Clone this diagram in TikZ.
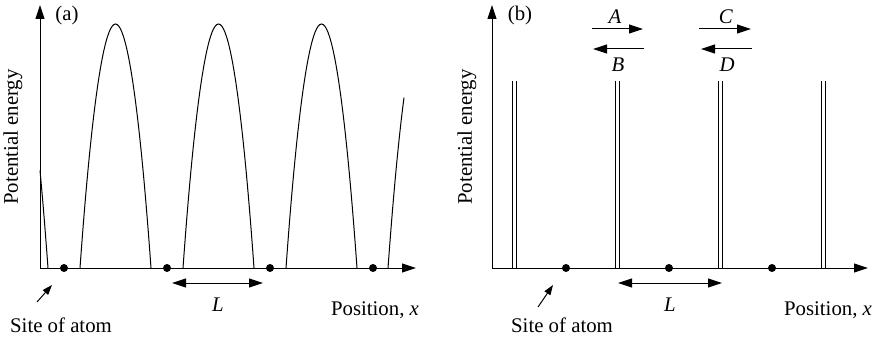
\documentclass[tikz,border=0pt]{standalone}
\usepackage{fontspec}
\setmainfont{Liberation Serif}
\usetikzlibrary{positioning,arrows.meta}

\begin{document}
\begin{tikzpicture}[
        x=0.5pt, y=-0.5pt,
        line width=0.5pt,
        txt/.style={font=\fontsize{10.4}{12}\selectfont, inner sep=0pt},
        site/.style={circle, fill, inner sep=0pt, minimum size=4pt},
        axis/.style={-{Triangle[length=7pt, width=4.5pt]}},
        link/.style={-{Triangle[length=7pt, width=4.5pt]}},
        both/.style={{Triangle[length=7pt, width=4.5pt]}-{Triangle[length=7pt, width=4.5pt]}},
        pointer/.style={-{Triangle[length=5pt, width=3.5pt]}}
    ]
        \useasboundingbox (0,0) rectangle (881,342);

        % ---- panel (a): smooth periodic potential
        \coordinate (oa) at (40,268);
        \coordinate (ya) at (40,5);
        \coordinate (xa) at (416,268);
        \draw[axis] (oa) -- (ya);
        \draw[axis] (oa) -- (xa);

        \draw plot[domain=40:48, samples=12] (\x, {268-244*(1-((\x-12.5)/35.5)^2)});
        \foreach \c in {115.5, 218.5, 321.5} {
            \draw (\c-35.5,268) parabola bend (\c,24) (\c+35.5,268);
        }
        \draw plot[domain=388:404, samples=12] (\x, {268-244*(1-((\x-423.5)/35.5)^2)});

        \foreach \i/\x in {1/64, 2/167, 3/270, 4/373} {
            \node[site] (sa\i) at (\x,268) {};
        }

        \coordinate (la1) at (172,283);
        \coordinate (la2) at (263,283);
        \draw[both] (la1) -- (la2);
        \node[txt] (lena) at (218,305) {\textit{L}};

        \node[txt] (tagA) at (67,15) {(a)};
        \node[txt, rotate=90] (pea) at (13,137) {Potential energy};
        \node[txt] (posa) at (375,310) {Position, \textit{x}};
        \node[txt] (sitea) at (61,325) {Site of atom};
        \coordinate (pa1) at (37,302);
        \coordinate (pa2) at (52,285);
        \draw[pointer] (pa1) -- (pa2);

        % ---- panel (b): thin barriers
        \coordinate (ob) at (492,268);
        \coordinate (yb) at (492,5);
        \coordinate (xb) at (868,268);
        \draw[axis] (ob) -- (yb);
        \draw[axis] (ob) -- (xb);

        \foreach \i/\x in {1/514.5, 2/617.5, 3/720.5, 4/823.5} {
            \coordinate (wt\i) at (\x,81);
            \coordinate (wb\i) at (\x,268);
            \draw ([xshift=-1.1pt]wt\i) -- ([xshift=-1.1pt]wb\i);
            \draw ([xshift=1.1pt]wt\i) -- ([xshift=1.1pt]wb\i);
        }

        \foreach \i/\x in {1/566, 2/669, 3/772} {
            \node[site] (sb\i) at (\x,268) {};
        }

        % transmitted / reflected waves
        \coordinate (a1) at (592,29);  \coordinate (a2) at (643,29);
        \coordinate (b1) at (644,49);  \coordinate (b2) at (593,49);
        \coordinate (c1) at (699,29);  \coordinate (c2) at (751,29);
        \coordinate (d1) at (752,49);  \coordinate (d2) at (701,49);
        \draw[link] (a1) -- (a2);
        \draw[link] (b1) -- (b2);
        \draw[link] (c1) -- (c2);
        \draw[link] (d1) -- (d2);
        \node[txt] (labA) at (615,17) {\textit{A}};
        \node[txt] (labB) at (618,65) {\textit{B}};
        \node[txt] (labC) at (726,17) {\textit{C}};
        \node[txt] (labD) at (727,65) {\textit{D}};

        \coordinate (lb1) at (618,283);
        \coordinate (lb2) at (722,283);
        \draw[both] (lb1) -- (lb2);
        \node[txt] (lenb) at (670,305) {\textit{L}};

        \node[txt] (tagB) at (520,15) {(b)};
        \node[txt, rotate=90] (peb) at (467,137) {Potential energy};
        \node[txt] (posb) at (828,310) {Position, \textit{x}};
        \node[txt] (siteb) at (562,325) {Site of atom};
        \coordinate (pb1) at (538,307);
        \coordinate (pb2) at (553,285);
        \draw[pointer] (pb1) -- (pb2);
    \end{tikzpicture}
\end{document}
